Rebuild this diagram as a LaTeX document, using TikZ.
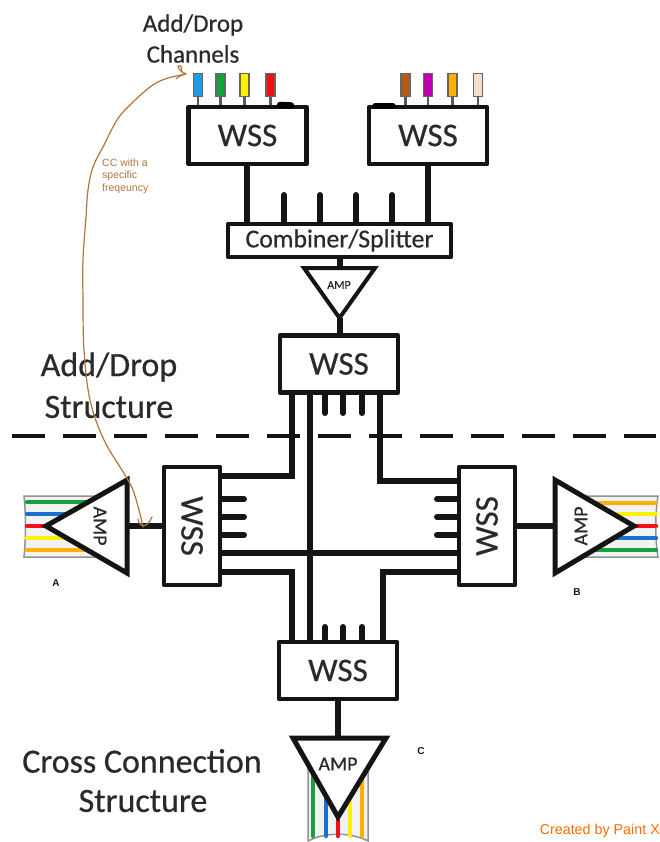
\documentclass[tikz,border=0pt]{standalone}
\usepackage{fontspec}
\setmainfont[FakeBold=0.5]{Carlito}
\newfontfamily\arialfont{Liberation Sans}
\definecolor{ink}{HTML}{141414}
\definecolor{txt}{HTML}{2A2A2A}
\definecolor{pen}{HTML}{B0763A}
\definecolor{fgreen}{HTML}{18A040}
\definecolor{fblue}{HTML}{1A6FD0}
\definecolor{fred}{HTML}{F2101C}
\definecolor{fyellow}{HTML}{FFF200}
\definecolor{forange}{HTML}{FFB000}
\newcommand{\fsz}[1]{\fontsize{#1}{#1}\selectfont}
\tikzset{
  box/.style={draw=ink,line width=4.5pt,fill=white,inner sep=0pt,outer sep=0pt,text=txt,line join=round},
  wssh/.style={box,minimum width=118pt,minimum height=57pt,font=\fsz{33}},
  wssv/.style={box,minimum width=56pt,minimum height=118pt,font=\fsz{33}},
  wire/.style={draw=ink,line width=6pt},
  stub/.style={draw=ink,line width=6pt,line cap=round},
  ampl/.style={draw=ink,line width=5pt,fill=white,line join=miter},
  lbl/.style={text=txt,inner sep=0pt,align=center,font=\fsz{34}},
  amptxt/.style={text=txt,inner sep=0pt,font=\fsz{20}},
  tag/.style={inner sep=0pt,text=ink,font=\arialfont\bfseries\fsz{10}},
  pill/.style={draw=gray!80!black,line width=1.5pt,minimum width=9pt,minimum height=23pt,inner sep=0pt,outer sep=0pt},
  fibre/.style={line width=4.5pt,line cap=round},
  sheath/.style={draw=gray!85,line width=1.5pt,fill=black!5},
  brown/.style={draw=pen,line width=1.2pt,line cap=round,line join=round},
}
\begin{document}
\begin{tikzpicture}[x=1pt,y=-1pt]
\useasboundingbox[fill=white] (0,0) rectangle (660,842);

% fibre bundles
\draw[sheath] (105,496) -- (24,496) .. controls (26,515) and (26,538) .. (24,557) -- (105,557) -- cycle;
\foreach \yy/\xe/\cc in {502/95/fgreen,514/72/fblue,526/46/fred,538/72/fyellow,550/95/forange}
  \draw[fibre,\cc] (27,\yy) -- (\xe,\yy);
\draw[sheath] (575,496) -- (658,496) .. controls (655,515) and (655,538) .. (658,557) -- (575,557) -- cycle;
\foreach \yy/\xe/\cc in {503/585/forange,514/612/fyellow,526/635/fred,538/612/fblue,550/585/fgreen}
  \draw[fibre,\cc] (656,\yy) -- (\xe,\yy);
\draw[sheath] (308,760) -- (308,841) .. controls (325,832) and (351,832) .. (368,841) -- (368,760) -- cycle;
\foreach \xx/\ye/\cc in {313/765/fgreen,326/790/fblue,338/818/fred,350/790/fyellow,362/765/forange}
  \draw[fibre,\cc] (\xx,836) -- (\xx,\ye);

% dashed separator
\coordinate (dashL) at (12,436);
\coordinate (dashR) at (656,436);
\draw[draw=ink,line width=4pt,dash pattern=on 33pt off 18pt] (dashL) -- (dashR);

% boxes
\node[wssh] (wssA) at (247.5,135.5) {WSS};
\node[wssh] (wssB) at (428,135.5) {WSS};
\node[box,minimum width=223pt,minimum height=33pt,font=\fsz{25.8}] (comb) at (339.5,240.5) {Combiner/Splitter};
\node[wssh] (wssT) at (339,364) {WSS};
\node[wssv] (wssL) at (192,526) {\rotatebox{-90}{WSS}};
\node[wssv] (wssR) at (487,526) {\rotatebox{90}{WSS}};
\node[wssh] (wssD) at (338,670.5) {WSS};

% channel pills
\foreach \nm/\xx/\cc in {p1/198/1E9BE8,p2/220.5/12A23C,p3/244.5/FFF200,p4/270.5/F50F0F}{
  \coordinate (\nm s) at (\xx,105);
  \draw[draw=gray!70!black,line width=2.5pt] (\nm s) -- (\xx,95);
  \definecolor{tmpc}{HTML}{\cc}
  \node[pill,fill=tmpc] (\nm) at (\xx,85) {};
}
\foreach \nm/\xx/\cc in {q1/405.5/B85A14,q2/428/BE00B0,q3/452.5/FFB000,q4/478/F3DFCB}{
  \coordinate (\nm s) at (\xx,105);
  \draw[draw=gray!70!black,line width=2.5pt] (\nm s) -- (\xx,95);
  \definecolor{tmpc}{HTML}{\cc}
  \node[pill,fill=tmpc] (\nm) at (\xx,85) {};
}
\coordinate (blobA) at (280,105);
\coordinate (blobAe) at (291,105.5);
\coordinate (blobB) at (375,106);
\coordinate (blobBe) at (393,106);
\draw[draw=black,line width=6.5pt,line cap=round] (blobA) -- (blobAe);
\draw[draw=black,line width=5.5pt,line cap=round] (blobB) -- (blobBe);

% upper wiring
\coordinate (cA) at (247,222);
\coordinate (cB) at (428,222);
\draw[wire] (wssA.south -| cA) -- (comb.north -| cA);
\draw[wire] (wssB.south -| cB) -- (comb.north -| cB);
\foreach \xx in {284,320,356,392}
  \draw[stub] (\xx,195) -- (\xx,222);

% top amplifier
\coordinate (a1L) at (304,268);
\coordinate (a1R) at (375,268);
\coordinate (a1A) at (339.5,318);
\draw[wire] (comb.south -| a1A) -- (a1A |- a1L);
\draw[wire] (a1A) -- (wssT.north -| a1A);
\draw[ampl,line width=4pt] (a1L) -- (a1R) -- (a1A) -- cycle;
\node[amptxt,font=\fsz{12}] (a1T) at (339,285) {AMP};

% cross wiring
\coordinate (n1) at (292,476);
\coordinate (n2) at (380,481);
\coordinate (n3) at (292,572);
\coordinate (n4) at (383,572);
\coordinate (n5) at (310,394);
\draw[wire] (wssT.south -| n1) |- (wssL.east |- n1);
\draw[wire] (wssT.south -| n2) |- (wssR.west |- n2);
\draw[wire] (wssL.east |- n3) -| (wssD.north -| n3);
\draw[wire] (wssR.west |- n4) -| (wssD.north -| n4);
\draw[wire] (wssT.south -| n5) -- (wssD.north -| n5);
\coordinate (n6) at (0,553);
\draw[wire] (wssL.east |- n6) -- (wssR.west |- n6);
\foreach \yy in {499,517,535} {
  \draw[stub] (222,\yy) -- (244,\yy);
  \draw[stub] (457,\yy) -- (437,\yy);
}
\foreach \xx in {325,343,362} {
  \draw[stub] (\xx,394) -- (\xx,413);
  \draw[stub] (\xx,640) -- (\xx,627);
}

% side and bottom amplifiers
\coordinate (a2T) at (127,480);
\coordinate (a2B) at (127,573);
\coordinate (a2A) at (46,526);
\coordinate (a2C) at (127,526);
\draw[wire] (a2C) -- (wssL.west |- a2C);
\draw[ampl] (a2T) -- (a2B) -- (a2A) -- cycle;
\node[amptxt,rotate=-90] (a2Tx) at (100,526) {AMP};

\coordinate (a3T) at (555,480);
\coordinate (a3B) at (555,573);
\coordinate (a3A) at (634,526);
\coordinate (a3C) at (555,526);
\draw[wire] (wssR.east |- a3C) -- (a3C);
\draw[ampl] (a3T) -- (a3B) -- (a3A) -- cycle;
\node[amptxt,rotate=90] (a3Tx) at (581,526) {AMP};

\coordinate (a4L) at (293,738);
\coordinate (a4R) at (386,738);
\coordinate (a4A) at (338,817);
\draw[wire] (wssD.south -| a4A) -- (a4A |- a4L);
\draw[ampl] (a4L) -- (a4R) -- (a4A) -- cycle;
\node[amptxt] (a4Tx) at (338,764) {AMP};

% text labels
\node[lbl,font=\fsz{25}] (lAD) at (193,25) {Add/Drop};
\node[lbl,font=\fsz{25}] (lCh) at (193,54) {Channels};
\node[lbl] (lAD2) at (109,367) {Add/Drop};
\node[lbl] (lSt) at (109,407) {Structure};
\node[lbl] (lCC) at (142,761) {Cross Connection};
\node[lbl] (lSt2) at (143,801) {Structure};
\node[tag] (tA) at (56,583) {A};
\node[tag] (tB) at (577,592) {B};
\node[tag] (tC) at (421,751) {C};
\node[anchor=west,inner sep=0pt,text=pen,font=\arialfont\fsz{10.5}] (n7) at (102,163) {CC with a};
\node[anchor=west,inner sep=0pt,text=pen,font=\arialfont\fsz{10.5}] (n8) at (102,176) {specific};
\node[anchor=west,inner sep=0pt,text=pen,font=\arialfont\fsz{10.5}] (n9) at (102,189) {freqeuncy};
\node[anchor=east,inner sep=0pt,text=orange!85!red,font=\arialfont\fsz{14.3}] (cred) at (660,831) {Created by Paint X};

% hand-drawn arrow
\draw[brown] plot[smooth,tension=0.6] coordinates {(186,74) (165,79) (150,87) (130,105) (117,120) (104,145) (93,167) (88,190) (86,217) (83,260) (83,300) (84,350) (90,400) (104,440) (125,475) (133,490) (139,510) (143,527)};
\draw[brown] (138,519) .. controls (139,527) and (146,530) .. (152,517);
\draw[brown] (178,66) .. controls (179,70) and (181,72) .. (186,74) .. controls (181,75) and (178,77) .. (176,79);
\draw[brown] (178,66) -- (181,66) -- (182,72);
\end{tikzpicture}
\end{document}
